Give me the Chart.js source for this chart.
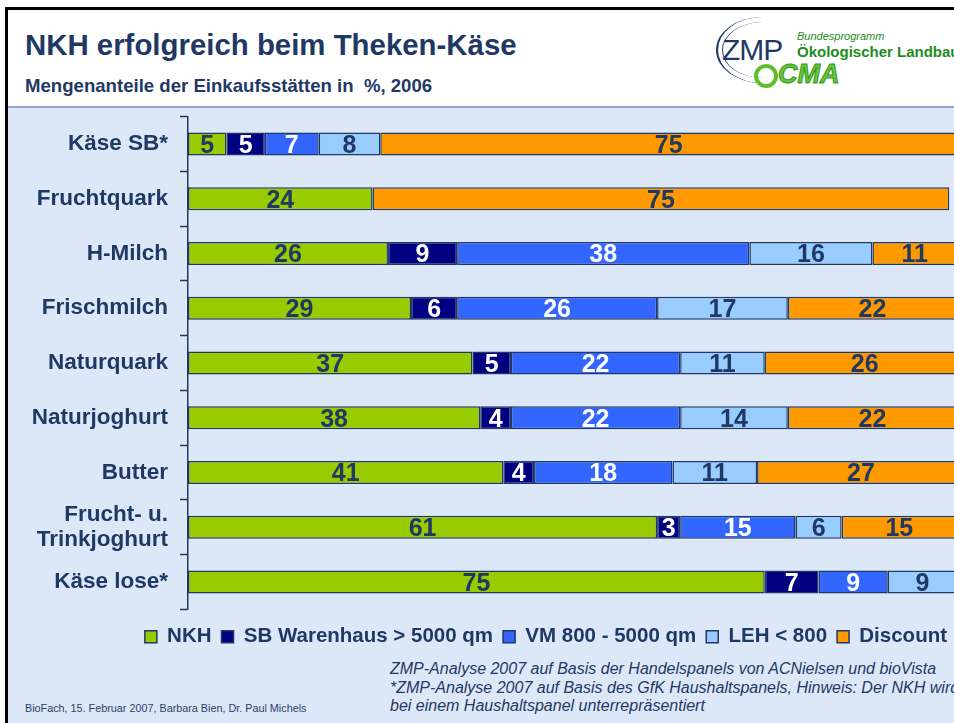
<!DOCTYPE html>
<html>
<head>
<meta charset="utf-8">
<script src="https://cdn.jsdelivr.net/npm/chart.js@4.4.1/dist/chart.umd.min.js"></script>
<style>
  body { margin: 0; width: 954px; height: 723px; overflow: hidden; background: #fff; font-family: Arial, "Liberation Sans", sans-serif; position: relative; }
  #frame { position: absolute; left: 5px; top: 7px; width: 1000px; height: 800px; border-left: 3px solid #000; border-top: 3px solid #000; background: #fff; }
  #panel { position: absolute; left: 8px; top: 106px; width: 1000px; height: 700px; background: #dce8f8; border-top: 2px solid #8fa6cf; }
  .t { position: absolute; color: #1f3864; white-space: nowrap; }
  #title { left: 25px; top: 28px; font-size: 29.4px; font-weight: bold; }
  #sub { left: 25px; top: 75px; font-size: 18.6px; font-weight: bold; }
  #wrap { position: absolute; left: 0; top: 100px; width: 957px; height: 557px; }
  #foot1 { left: 25px; top: 702px; font-size: 10.8px; color: #2b3f66; }
  .note { left: 390px; font-size: 16px; font-style: italic; color: #1f3864; }
  .arc { position: absolute; border-left: 2px solid #1f3864; border-radius: 50%; }
  .green { position: absolute; white-space: nowrap; color: #1e8c1e; }
</style>
</head>
<body>
<div id="frame"></div>
<div id="panel"></div>
<div class="t" id="title">NKH erfolgreich beim Theken-Käse</div>
<div class="t" id="sub">Mengenanteile der Einkaufsstätten in &nbsp;%, 2006</div>

<div class="arc" style="left:716px;top:17px;width:90px;height:66px;"></div>
<div class="arc" style="left:722px;top:22px;width:80px;height:56px;border-left-width:1px;"></div>
<div class="t" style="left:722px;top:33px;font-size:30px;letter-spacing:-1px;">ZMP</div>
<div class="green" style="left:797px;top:30px;font-size:11px;font-style:italic;">Bundesprogramm</div>
<div class="green" style="left:797px;top:43px;font-size:15px;font-weight:bold;">Ökologischer Landbau</div>
<div style="position:absolute;left:754px;top:64px;width:16px;height:16px;border:4px solid #5fbf2a;border-radius:50%;"></div>
<div class="green" style="left:778px;top:59px;font-size:27px;font-weight:900;font-style:italic;color:#6cc43a;-webkit-text-stroke:1px #2f9a1f;">CMA</div>

<div id="wrap"><canvas id="chart"></canvas></div>

<div class="t note" style="top:660px;">ZMP-Analyse 2007 auf Basis der Handelspanels von ACNielsen und bioVista</div>
<div class="t note" style="top:679px;">*ZMP-Analyse 2007 auf Basis des GfK Haushaltspanels, Hinweis: Der NKH wird</div>
<div class="t note" style="top:697px;">bei einem Haushaltspanel unterrepräsentiert</div>
<div class="t" id="foot1">BioFach, 15. Februar 2007, Barbara Bien, Dr. Paul Michels</div>

<script>
var categories = ['Käse SB*', 'Fruchtquark', 'H-Milch', 'Frischmilch', 'Naturquark',
    'Naturjoghurt', 'Butter', ['Frucht- u.', 'Trinkjoghurt'], 'Käse lose*'];
var seriesNames = ['NKH', 'SB Warenhaus > 5000 qm', 'VM 800 - 5000 qm', 'LEH < 800', 'Discount'];
var nkh      = [5, 24, 26, 29, 37, 38, 41, 61, 75];
var sbWaren  = [5, 0, 9, 6, 5, 4, 4, 3, 7];
var vm       = [7, 0, 38, 26, 22, 22, 18, 15, 9];
var leh      = [8, 0, 16, 17, 11, 14, 11, 6, 9];
var discount = [75, 75, 11, 22, 26, 22, 27, 15, 0];

var colors = ['#99cc00', '#000080', '#3366ff', '#99ccff', '#ff9900'];
var labelColors = ['#1f3864', '#ffffff', '#ffffff', '#1f3864', '#1f3864'];
var navy = '#1f3864';

// draws the value inside each stacked segment
var valueLabels = {
    id: 'valueLabels',
    afterDatasetsDraw: function(chart) {
        var ctx = chart.ctx;
        ctx.save();
        ctx.font = 'bold 25px Arial, "Liberation Sans", sans-serif';
        ctx.textAlign = 'center';
        ctx.textBaseline = 'middle';
        chart.data.datasets.forEach(function(ds, i) {
            chart.getDatasetMeta(i).data.forEach(function(bar, j) {
                var v = ds.data[j];
                if (!v) return;
                ctx.fillStyle = labelColors[i];
                ctx.fillText(v, (bar.x + bar.base) / 2, bar.y + 2);
            });
        });
        ctx.restore();
    }
};

var series = [nkh, sbWaren, vm, leh, discount];
var datasets = series.map(function(d, i) {
    return {
        label: seriesNames[i],
        data: d,
        backgroundColor: colors[i],
        borderColor: navy,
        borderWidth: 1.5,
        borderSkipped: false,
        categoryPercentage: 1,
        barPercentage: 0.42
    };
});

var ctx = document.getElementById('chart').getContext('2d');
new Chart(ctx, {
    type: 'bar',
    data: { labels: categories, datasets: datasets },
    plugins: [valueLabels],
    options: {
        indexAxis: 'y',
        responsive: true,
        maintainAspectRatio: false,
        animation: false,
        layout: { padding: { top: 16.5, right: 0, bottom: 0, left: 0 } },
        scales: {
            x: {
                stacked: true,
                min: 0,
                max: 100,
                grid: { display: false },
                border: { display: false },
                ticks: { display: false },
                afterFit: function(scale) { scale.height = 7; }
            },
            y: {
                stacked: true,
                grid: { drawOnChartArea: false, color: navy, tickLength: 8, tickWidth: 1.5 },
                border: { color: navy, width: 1.5 },
                ticks: {
                    color: navy,
                    padding: 12,
                    autoSkip: false,
                    font: { family: 'Arial, "Liberation Sans", sans-serif', size: 22.5, weight: 'bold', lineHeight: 1.15 }
                },
                afterFit: function(scale) {
                    scale.width = 188;
                    scale.paddingTop = 0;
                    scale.paddingBottom = 0;
                }
            }
        },
        plugins: {
            tooltip: { enabled: false },
            legend: {
                position: 'bottom',
                align: 'end',
                labels: {
                    color: navy,
                    boxWidth: 12,
                    boxHeight: 12,
                    padding: 10,
                    font: { family: 'Arial, "Liberation Sans", sans-serif', size: 20.5, weight: 'bold' }
                }
            }
        }
    }
});
</script>
</body>
</html>
